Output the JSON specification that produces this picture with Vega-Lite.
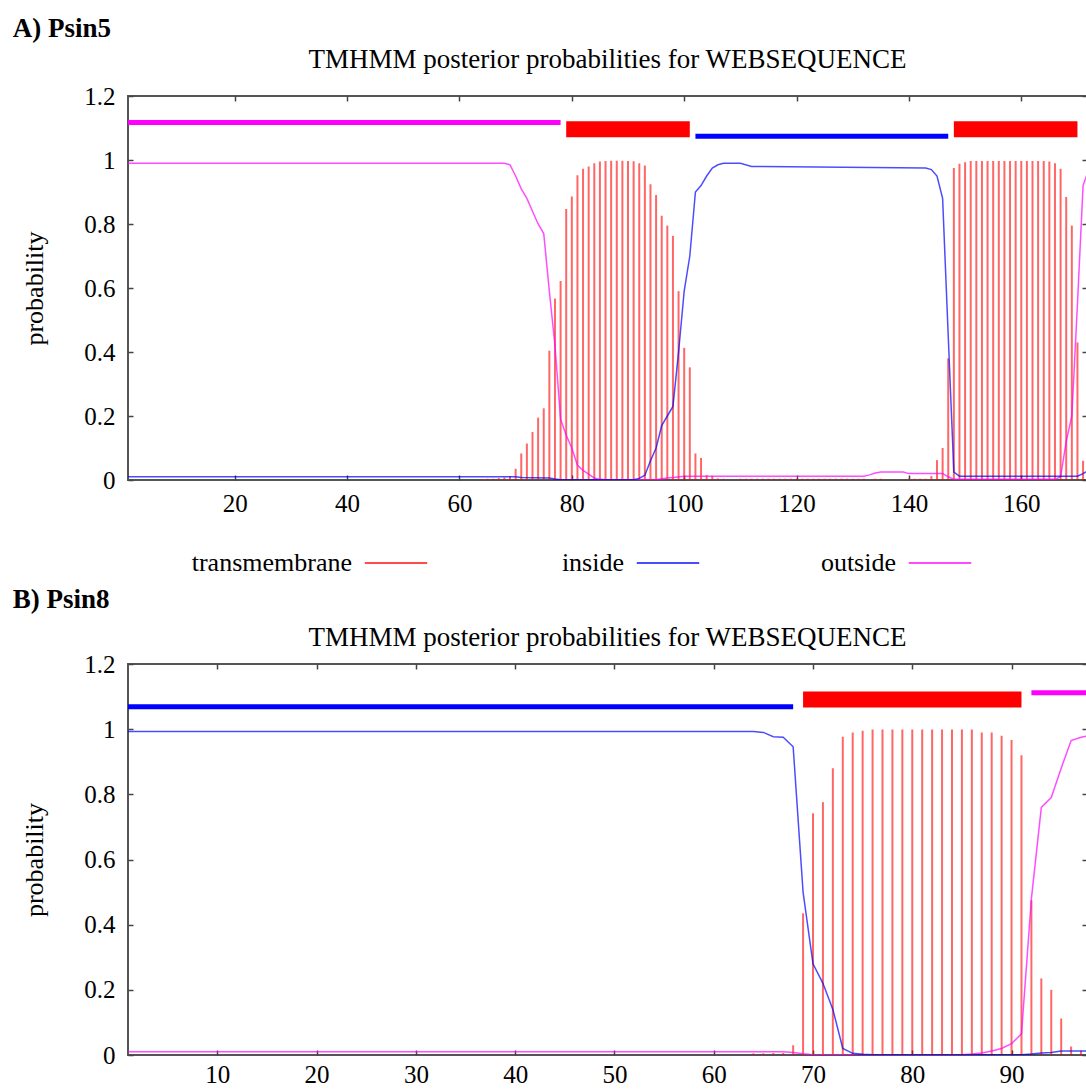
{
  "$schema": "https://vega.github.io/schema/vega-lite/v6.json",
  "padding": {"left": 12, "top": 15, "right": 0, "bottom": 0},
  "background": "white",
  "config": {
    "font": "Liberation Serif",
    "view": {"stroke": "#555", "strokeWidth": 2},
    "axis": {"labelFont": "Liberation Serif", "labelFontSize": 25, "labelColor": "#000", "titleFont": "Liberation Serif", "titleFontSize": 26, "titleFontWeight": "normal", "titleColor": "#000", "grid": false, "domain": false, "tickColor": "#444", "tickWidth": 1.5, "tickSize": -5},
    "title": {"font": "Liberation Serif", "fontSize": 27, "fontWeight": "normal", "color": "#000"}
  },
  "datasets": {
    "a_tm": [
      {"pos":64,"p":0.003},{"pos":65,"p":0.004},{"pos":66,"p":0.004},{"pos":67,"p":0.006},{"pos":68,"p":0.008},{"pos":69,"p":0.012},
      {"pos":70,"p":0.035},{"pos":71,"p":0.083},{"pos":72,"p":0.114},{"pos":73,"p":0.15},{"pos":74,"p":0.195},{"pos":75,"p":0.224},
      {"pos":76,"p":0.404},{"pos":77,"p":0.567},{"pos":78,"p":0.622},{"pos":79,"p":0.847},{"pos":80,"p":0.886},{"pos":81,"p":0.952},
      {"pos":82,"p":0.973},{"pos":83,"p":0.98},{"pos":84,"p":0.99},{"pos":85,"p":0.995},{"pos":86,"p":0.997},{"pos":87,"p":0.998},
      {"pos":88,"p":0.998},{"pos":89,"p":0.998},{"pos":90,"p":0.997},{"pos":91,"p":0.996},{"pos":92,"p":0.99},{"pos":93,"p":0.983},
      {"pos":94,"p":0.924},{"pos":95,"p":0.891},{"pos":96,"p":0.826},{"pos":97,"p":0.795},{"pos":98,"p":0.763},{"pos":99,"p":0.59},
      {"pos":100,"p":0.413},{"pos":101,"p":0.352},{"pos":102,"p":0.083},{"pos":103,"p":0.069},{"pos":104,"p":0.015},{"pos":105,"p":0.013},
      {"pos":106,"p":0.005},{"pos":107,"p":0.004},
      {"pos":110,"p":0.004},{"pos":111,"p":0.004},{"pos":112,"p":0.004},{"pos":113,"p":0.004},{"pos":114,"p":0.004},{"pos":115,"p":0.004},
      {"pos":116,"p":0.004},{"pos":117,"p":0.004},{"pos":118,"p":0.004},{"pos":119,"p":0.004},{"pos":120,"p":0.004},{"pos":121,"p":0.004},
      {"pos":122,"p":0.004},{"pos":123,"p":0.004},{"pos":124,"p":0.004},{"pos":125,"p":0.004},{"pos":126,"p":0.004},{"pos":127,"p":0.004},
      {"pos":128,"p":0.004},{"pos":129,"p":0.004},{"pos":130,"p":0.004},{"pos":131,"p":0.004},{"pos":132,"p":0.004},
      {"pos":134,"p":0.004},{"pos":135,"p":0.004},
      {"pos":140,"p":0.004},{"pos":141,"p":0.004},{"pos":142,"p":0.004},{"pos":143,"p":0.004},{"pos":144,"p":0.012},
      {"pos":145,"p":0.062},{"pos":146,"p":0.1},{"pos":147,"p":0.38},{"pos":148,"p":0.975},{"pos":149,"p":0.988},{"pos":150,"p":0.993},
      {"pos":151,"p":0.997},{"pos":152,"p":0.997},{"pos":153,"p":0.997},{"pos":154,"p":0.997},{"pos":155,"p":0.997},{"pos":156,"p":0.997},
      {"pos":157,"p":0.997},{"pos":158,"p":0.997},{"pos":159,"p":0.997},{"pos":160,"p":0.997},{"pos":161,"p":0.997},{"pos":162,"p":0.997},
      {"pos":163,"p":0.997},{"pos":164,"p":0.997},{"pos":165,"p":0.995},{"pos":166,"p":0.99},{"pos":167,"p":0.973},{"pos":168,"p":0.884},
      {"pos":169,"p":0.795},{"pos":170,"p":0.43},{"pos":171,"p":0.06}
    ],
    "a_lines": [
      {"pos":1,"series":"outside","p":0.99},{"pos":67,"series":"outside","p":0.99},{"pos":68,"series":"outside","p":0.99},
      {"pos":69,"series":"outside","p":0.985},{"pos":70,"series":"outside","p":0.95},{"pos":71,"series":"outside","p":0.91},
      {"pos":72,"series":"outside","p":0.88},{"pos":73,"series":"outside","p":0.84},{"pos":74,"series":"outside","p":0.8},
      {"pos":75,"series":"outside","p":0.77},{"pos":76,"series":"outside","p":0.59},{"pos":77,"series":"outside","p":0.42},
      {"pos":78,"series":"outside","p":0.19},{"pos":79,"series":"outside","p":0.14},{"pos":80,"series":"outside","p":0.1},
      {"pos":81,"series":"outside","p":0.046},{"pos":82,"series":"outside","p":0.03},{"pos":83,"series":"outside","p":0.018},
      {"pos":84,"series":"outside","p":0.006},{"pos":85,"series":"outside","p":0.002},{"pos":86,"series":"outside","p":0.001},
      {"pos":95,"series":"outside","p":0.001},{"pos":96,"series":"outside","p":0.004},{"pos":97,"series":"outside","p":0.006},
      {"pos":98,"series":"outside","p":0.008},{"pos":100,"series":"outside","p":0.012},{"pos":132,"series":"outside","p":0.012},
      {"pos":133,"series":"outside","p":0.016},{"pos":134,"series":"outside","p":0.022},{"pos":135,"series":"outside","p":0.025},
      {"pos":139,"series":"outside","p":0.025},{"pos":140,"series":"outside","p":0.02},{"pos":146,"series":"outside","p":0.02},
      {"pos":147,"series":"outside","p":0.01},{"pos":148,"series":"outside","p":0.002},{"pos":166,"series":"outside","p":0.002},
      {"pos":167,"series":"outside","p":0.01},{"pos":168,"series":"outside","p":0.12},{"pos":169,"series":"outside","p":0.2},
      {"pos":170,"series":"outside","p":0.55},{"pos":171,"series":"outside","p":0.92},{"pos":172,"series":"outside","p":0.97},
      {"pos":1,"series":"inside","p":0.01},{"pos":70,"series":"inside","p":0.01},{"pos":71,"series":"inside","p":0.008},
      {"pos":76,"series":"inside","p":0.006},{"pos":77,"series":"inside","p":0.003},{"pos":78,"series":"inside","p":0.001},
      {"pos":91,"series":"inside","p":0.001},{"pos":92,"series":"inside","p":0.005},{"pos":93,"series":"inside","p":0.015},
      {"pos":94,"series":"inside","p":0.06},{"pos":95,"series":"inside","p":0.1},{"pos":96,"series":"inside","p":0.17},
      {"pos":97,"series":"inside","p":0.2},{"pos":98,"series":"inside","p":0.23},{"pos":99,"series":"inside","p":0.4},
      {"pos":100,"series":"inside","p":0.59},{"pos":101,"series":"inside","p":0.7},{"pos":102,"series":"inside","p":0.9},
      {"pos":103,"series":"inside","p":0.92},{"pos":104,"series":"inside","p":0.95},{"pos":105,"series":"inside","p":0.975},
      {"pos":106,"series":"inside","p":0.985},{"pos":107,"series":"inside","p":0.99},{"pos":110,"series":"inside","p":0.99},
      {"pos":112,"series":"inside","p":0.98},{"pos":143,"series":"inside","p":0.975},{"pos":144,"series":"inside","p":0.97},
      {"pos":145,"series":"inside","p":0.95},{"pos":146,"series":"inside","p":0.88},{"pos":147,"series":"inside","p":0.45},
      {"pos":148,"series":"inside","p":0.025},{"pos":149,"series":"inside","p":0.012},{"pos":170,"series":"inside","p":0.012},
      {"pos":171,"series":"inside","p":0.02},{"pos":172,"series":"inside","p":0.03}
    ],
    "a_segs": [
      {"series":"outside","start":1,"end":78,"level":1.117},
      {"series":"transmembrane","start":79,"end":101,"level":1.096},
      {"series":"inside","start":102,"end":147,"level":1.074},
      {"series":"transmembrane","start":148,"end":170,"level":1.096}
    ],
    "b_tm": [
      {"pos":64,"p":0.005},{"pos":65,"p":0.005},{"pos":66,"p":0.006},{"pos":67,"p":0.006},{"pos":68,"p":0.03},
      {"pos":69,"p":0.435},{"pos":70,"p":0.742},{"pos":71,"p":0.776},{"pos":72,"p":0.88},{"pos":73,"p":0.977},{"pos":74,"p":0.99},
      {"pos":75,"p":0.995},{"pos":76,"p":0.999},{"pos":77,"p":0.999},{"pos":78,"p":0.999},{"pos":79,"p":0.999},{"pos":80,"p":0.999},
      {"pos":81,"p":0.999},{"pos":82,"p":0.999},{"pos":83,"p":0.999},{"pos":84,"p":0.999},{"pos":85,"p":0.999},{"pos":86,"p":0.999},
      {"pos":87,"p":0.99},{"pos":88,"p":0.99},{"pos":89,"p":0.98},{"pos":90,"p":0.967},{"pos":91,"p":0.92},{"pos":92,"p":0.475},
      {"pos":93,"p":0.235},{"pos":94,"p":0.2},{"pos":95,"p":0.112},{"pos":96,"p":0.026},{"pos":97,"p":0.013}
    ],
    "b_lines": [
      {"pos":1,"series":"outside","p":0.01},{"pos":67,"series":"outside","p":0.01},{"pos":68,"series":"outside","p":0.008},
      {"pos":69,"series":"outside","p":0.004},{"pos":70,"series":"outside","p":0.001},{"pos":85,"series":"outside","p":0.001},
      {"pos":86,"series":"outside","p":0.003},{"pos":87,"series":"outside","p":0.006},{"pos":88,"series":"outside","p":0.012},
      {"pos":89,"series":"outside","p":0.02},{"pos":90,"series":"outside","p":0.035},{"pos":91,"series":"outside","p":0.065},
      {"pos":92,"series":"outside","p":0.48},{"pos":93,"series":"outside","p":0.76},{"pos":94,"series":"outside","p":0.79},
      {"pos":95,"series":"outside","p":0.88},{"pos":96,"series":"outside","p":0.965},{"pos":97,"series":"outside","p":0.975},
      {"pos":98,"series":"outside","p":0.982},
      {"pos":1,"series":"inside","p":0.993},{"pos":64,"series":"inside","p":0.993},{"pos":65,"series":"inside","p":0.99},
      {"pos":66,"series":"inside","p":0.977},{"pos":67,"series":"inside","p":0.975},{"pos":68,"series":"inside","p":0.946},
      {"pos":69,"series":"inside","p":0.5},{"pos":70,"series":"inside","p":0.28},{"pos":71,"series":"inside","p":0.22},
      {"pos":72,"series":"inside","p":0.14},{"pos":73,"series":"inside","p":0.02},{"pos":74,"series":"inside","p":0.005},
      {"pos":75,"series":"inside","p":0.002},{"pos":76,"series":"inside","p":0.001},{"pos":91,"series":"inside","p":0.001},
      {"pos":92,"series":"inside","p":0.003},{"pos":93,"series":"inside","p":0.006},{"pos":94,"series":"inside","p":0.008},
      {"pos":95,"series":"inside","p":0.012},{"pos":98,"series":"inside","p":0.012}
    ],
    "b_segs": [
      {"series":"inside","start":1,"end":68,"level":1.069},
      {"series":"transmembrane","start":69,"end":91,"level":1.091},
      {"series":"outside","start":92,"end":100,"level":1.112}
    ]
  },
  "spacing": 10,
  "resolve": {"scale": {"color": "independent"}, "legend": {"color": "independent"}},
  "vconcat": [
    {
      "title": {"text": "A) Psin5", "anchor": "start", "frame": "bounds", "fontWeight": "bold", "dx": -8, "offset": 2},
      "vconcat": [
        {
          "title": {"text": "TMHMM posterior probabilities for WEBSEQUENCE", "frame": "group", "anchor": "middle", "offset": 10},
          "width": 959,
          "height": 384,
          "resolve": {"axis": {"x": "independent", "y": "independent"}},
          "layer": [
            {
              "data": {"name": "a_tm"},
              "mark": {"type": "rule", "strokeWidth": 2, "opacity": 0.6, "clip": true},
              "encoding": {
                "x": {"field": "pos", "type": "quantitative", "scale": {"domain": [1, 171.7], "nice": false, "zero": false},
                      "axis": {"orient": "bottom", "values": [20,40,60,80,100,120,140,160], "title": null, "labelPadding": 16}},
                "y": {"field": "p", "type": "quantitative", "scale": {"domain": [0, 1.2], "nice": false},
                      "axis": {"orient": "left", "values": [0,0.2,0.4,0.6,0.8,1,1.2], "format": "~g", "title": "probability", "labelPadding": 18, "titlePadding": 36}},
                "y2": {"datum": 0},
                "color": {"datum": "transmembrane", "type": "nominal", "title": null,
                          "scale": {"domain": ["transmembrane","inside","outside"], "range": ["#ff0000","#0000ff","#ff00ff"]},
                          "legend": {"title": null, "orient": "none", "legendX": 234, "legendY": 454, "direction": "horizontal", "columns": 3, "gridAlign": "all",
                                     "symbolType": "M-3,0H3", "symbolSize": 433, "symbolStrokeWidth": 2, "symbolOpacity": 0.5, "symbolOffset": 21,
                                     "labelAlign": "right", "labelOffset": -57, "labelFontSize": 26, "labelFont": "Liberation Serif",
                                     "labelColor": "#000", "columnPadding": 116, "labelLimit": 400, "padding": 0}}
              }
            },
            {
              "data": {"name": "a_lines"},
              "mark": {"type": "line", "strokeWidth": 1.5, "opacity": 0.7, "clip": true},
              "encoding": {
                "x": {"field": "pos", "type": "quantitative", "axis": {"orient": "top", "values": [20,40,60,80,100,120,140,160], "labels": false, "title": null}},
                "y": {"field": "p", "type": "quantitative", "axis": {"orient": "right", "values": [0,0.2,0.4,0.6,0.8,1,1.2], "labels": false, "title": null}},
                "color": {"field": "series", "type": "nominal", "title": null}
              }
            },
            {
              "data": {"name": "a_segs"},
              "transform": [{"filter": "datum.series === 'transmembrane'"}],
              "mark": {"type": "rule", "strokeWidth": 16, "clip": true},
              "encoding": {
                "x": {"field": "start", "type": "quantitative", "axis": null},
                "x2": {"field": "end"},
                "y": {"field": "level", "type": "quantitative", "axis": null},
                "color": {"field": "series", "type": "nominal", "title": null}
              }
            },
            {
              "data": {"name": "a_segs"},
              "transform": [{"filter": "datum.series !== 'transmembrane'"}],
              "mark": {"type": "rule", "strokeWidth": 5, "clip": true},
              "encoding": {
                "x": {"field": "start", "type": "quantitative", "axis": null},
                "x2": {"field": "end"},
                "y": {"field": "level", "type": "quantitative", "axis": null},
                "color": {"field": "series", "type": "nominal", "title": null}
              }
            }
          ]
        }
      ]
    },
    {
      "title": {"text": "B) Psin8", "anchor": "start", "frame": "bounds", "fontWeight": "bold", "dx": -8, "offset": 9},
      "vconcat": [
        {
          "title": {"text": "TMHMM posterior probabilities for WEBSEQUENCE", "frame": "group", "anchor": "middle", "offset": 0},
          "width": 959,
          "height": 391,
          "resolve": {"axis": {"x": "independent", "y": "independent"}},
          "layer": [
            {
              "data": {"name": "b_tm"},
              "mark": {"type": "rule", "strokeWidth": 2, "opacity": 0.6, "clip": true},
              "encoding": {
                "x": {"field": "pos", "type": "quantitative", "scale": {"domain": [1, 97.6], "nice": false, "zero": false},
                      "axis": {"orient": "bottom", "values": [10,20,30,40,50,60,70,80,90], "title": null, "labelPadding": 12}},
                "y": {"field": "p", "type": "quantitative", "scale": {"domain": [0, 1.2], "nice": false},
                      "axis": {"orient": "left", "values": [0,0.2,0.4,0.6,0.8,1,1.2], "format": "~g", "title": "probability", "labelPadding": 18, "titlePadding": 36}},
                "y2": {"datum": 0},
                "color": {"datum": "transmembrane", "type": "nominal",
                          "scale": {"domain": ["transmembrane","inside","outside"], "range": ["#ff0000","#0000ff","#ff00ff"]},
                          "legend": null}
              }
            },
            {
              "data": {"name": "b_lines"},
              "mark": {"type": "line", "strokeWidth": 1.5, "opacity": 0.7, "clip": true},
              "encoding": {
                "x": {"field": "pos", "type": "quantitative", "axis": {"orient": "top", "values": [10,20,30,40,50,60,70,80,90], "labels": false, "title": null}},
                "y": {"field": "p", "type": "quantitative", "axis": {"orient": "right", "values": [0,0.2,0.4,0.6,0.8,1,1.2], "labels": false, "title": null}},
                "color": {"field": "series", "type": "nominal", "legend": null}
              }
            },
            {
              "data": {"name": "b_segs"},
              "transform": [{"filter": "datum.series === 'transmembrane'"}],
              "mark": {"type": "rule", "strokeWidth": 16, "clip": true},
              "encoding": {
                "x": {"field": "start", "type": "quantitative", "axis": null},
                "x2": {"field": "end"},
                "y": {"field": "level", "type": "quantitative", "axis": null},
                "color": {"field": "series", "type": "nominal", "legend": null}
              }
            },
            {
              "data": {"name": "b_segs"},
              "transform": [{"filter": "datum.series !== 'transmembrane'"}],
              "mark": {"type": "rule", "strokeWidth": 5, "clip": true},
              "encoding": {
                "x": {"field": "start", "type": "quantitative", "axis": null},
                "x2": {"field": "end"},
                "y": {"field": "level", "type": "quantitative", "axis": null},
                "color": {"field": "series", "type": "nominal", "legend": null}
              }
            }
          ]
        }
      ]
    }
  ]
}
